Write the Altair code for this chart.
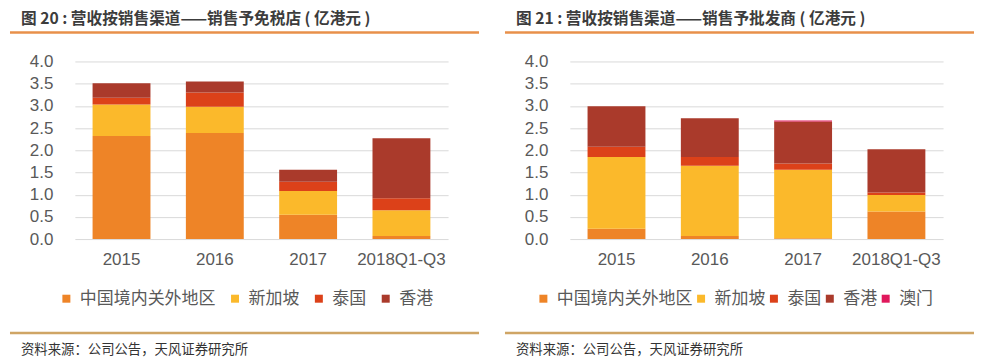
import altair as alt
import pandas as pd

years = ["2015", "2016", "2017", "2018Q1-Q3"]

# 图20 销售予免税店（亿港元）
dutyfree_series = ["中国境内关外地区", "新加坡", "泰国", "香港"]
df_mainland = [2.32, 2.39, 0.55, 0.07]
df_singapore = [0.71, 0.59, 0.53, 0.58]
df_thailand = [0.15, 0.32, 0.21, 0.27]
df_hongkong = [0.33, 0.25, 0.27, 1.35]

# 图21 销售予批发商（亿港元）
wholesale_series = ["中国境内关外地区", "新加坡", "泰国", "香港", "澳门"]
ws_mainland = [0.23, 0.07, 0.02, 0.62]
ws_singapore = [1.62, 1.58, 1.54, 0.37]
ws_thailand = [0.23, 0.20, 0.14, 0.06]
ws_hongkong = [0.91, 0.87, 0.95, 0.97]
ws_macau = [0.00, 0.00, 0.02, 0.00]

y_ticks = [0.0, 0.5, 1.0, 1.5, 2.0, 2.5, 3.0, 3.5, 4.0]

title_left = "图 20 : 营收按销售渠道——销售予免税店 ( 亿港元 )"
title_right = "图 21 : 营收按销售渠道——销售予批发商 ( 亿港元 )"
source_text = "资料来源：公司公告，天风证券研究所"

series_colors = {
    "中国境内关外地区": "#EE8427",
    "新加坡": "#FBB92B",
    "泰国": "#DC4119",
    "香港": "#AA3A2B",
    "澳门": "#E0185C",
}

FONT = "Noto Sans CJK SC"
NUMFONT = "Liberation Sans"
W, H = 374, 178


def long_df(series, columns):
    rows = []
    for si, (s, vals) in enumerate(zip(series, columns)):
        for y, v in zip(years, vals):
            rows.append({"year": y, "series": s, "value": v, "idx": si})
    return pd.DataFrame(rows)


def panel(series, columns, title, legend_x, col_pad):
    data = long_df(series, columns)
    bars = alt.Chart(data).mark_bar(size=58).encode(
        x=alt.X("year:N", sort=years, title=None,
                scale=alt.Scale(paddingInner=0.38, paddingOuter=0.19),
                axis=alt.Axis(labelAngle=0, ticks=False, domain=False,
                              labelFontSize=17, labelColor="#595959",
                              labelFont=NUMFONT, labelPadding=12)),
        y=alt.Y("value:Q", stack="zero", title=None,
                scale=alt.Scale(domain=[0, 4]),
                axis=alt.Axis(values=y_ticks, format=".1f", ticks=False,
                              domain=False, grid=True, gridColor="#D9D9D9",
                              labelFontSize=17, labelColor="#595959",
                              labelFont=NUMFONT, labelPadding=22)),
        color=alt.Color("series:N", sort=series,
                        scale=alt.Scale(domain=series,
                                        range=[series_colors[s] for s in series]),
                        legend=alt.Legend(title=None, orient="none",
                                          direction="horizontal",
                                          legendX=legend_x, legendY=229,
                                          symbolType="square", symbolSize=64,
                                          symbolStrokeWidth=0,
                                          labelFontSize=17, labelFont=FONT,
                                          labelColor="#595959", labelOffset=5,
                                          columnPadding=col_pad)),
        order=alt.Order("idx:Q", sort="ascending"),
    )
    deco_title = alt.Chart(pd.DataFrame({"t": [title]})).mark_text(
        align="left", baseline="middle", fontSize=15.7, fontWeight="bold",
        font=FONT, color="#3C3C3C",
    ).encode(text="t:N", x=alt.value(-54), y=alt.value(-42.5))
    top_rule = alt.Chart(pd.DataFrame({"a": [0]})).mark_rule(
        color="#E8904A", strokeWidth=2.5).encode(
        x=alt.value(-65), x2=alt.value(405), y=alt.value(-29))
    bottom_rule = alt.Chart(pd.DataFrame({"a": [0]})).mark_rule(
        color="#CFA565", strokeWidth=2.5).encode(
        x=alt.value(-65), x2=alt.value(405), y=alt.value(272))
    src = alt.Chart(pd.DataFrame({"t": [source_text]})).mark_text(
        align="left", baseline="middle", fontSize=13.4, font=FONT, color="#333333",
    ).encode(text="t:N", x=alt.value(-54), y=alt.value(289))
    return alt.layer(bars, deco_title, top_rule, bottom_rule, src).properties(
        width=W, height=H)


left = panel(dutyfree_series,
             [df_mainland, df_singapore, df_thailand, df_hongkong],
             title_left, -17, 11)
right = panel(wholesale_series,
              [ws_mainland, ws_singapore, ws_thailand, ws_hongkong, ws_macau],
              title_right, -35, -2)

chart = alt.hconcat(left, right, spacing=22).resolve_scale(
    color="independent", x="independent", y="independent"
).properties(
    padding={"left": 0, "top": 2.2, "right": 0, "bottom": 0},
    background="white",
).configure_view(stroke=None)

chart.save("out.html", embed_options={"renderer": "svg", "actions": False})
